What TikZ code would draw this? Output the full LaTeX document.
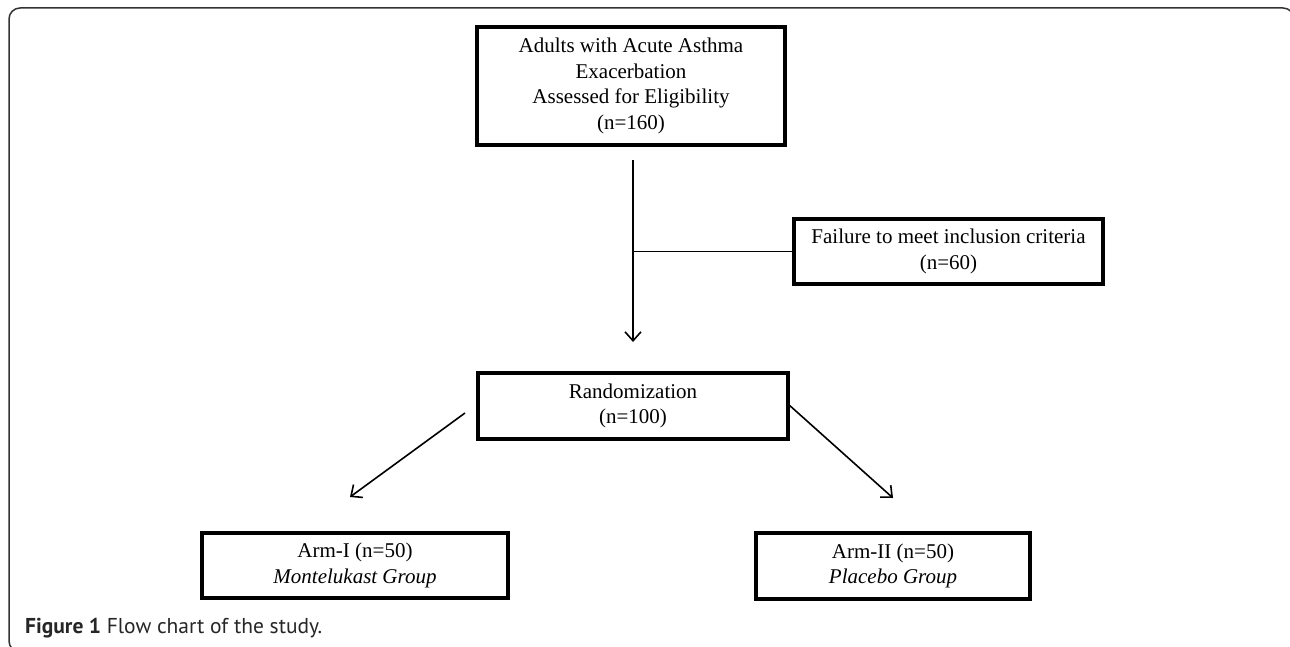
\documentclass[tikz,border=0pt]{standalone}
\usepackage{fontspec}
\setmainfont{Liberation Serif}
\newfontfamily\capfont{PT Sans}
\usetikzlibrary{arrows.meta}
\begin{document}
\begin{tikzpicture}[x=1pt,y=-1pt,
  box/.style={draw,line width=3.2pt,rectangle,align=center,inner sep=0pt,
    font=\fontsize{21}{25.5}\selectfont},
  conn/.style={line width=1.6pt,-{Straight Barb[length=9pt,width=16pt,line width=1.6pt]}},
  plain/.style={line width=1.6pt}]
\useasboundingbox (0,0) rectangle (1290,647);
\clip (0,0) rectangle (1290,647);
\fill[white] (0,0) rectangle (1290,647);
\draw[line width=1.5pt,black!80,rounded corners=11pt] (9,8) rectangle (1294,652);
\node[box,minimum width=308pt,minimum height=118pt] (top) at (631,86)
  {Adults with Acute Asthma\\Exacerbation\\Assessed for Eligibility\\(n=160)};
\node[box,minimum width=309pt,minimum height=65pt] (fail) at (948.5,251.5)
  {Failure to meet inclusion criteria\\(n=60)};
\node[box,minimum width=310pt,minimum height=66pt] (rand) at (633,406)
  {Randomization\\(n=100)};
\node[box,minimum width=306pt,minimum height=65pt] (arm1) at (355,565.5)
  {Arm-I (n=50)\\\textit{Montelukast Group}};
\node[box,minimum width=274pt,minimum height=66pt] (arm2) at (893,566)
  {Arm-II (n=50)\\\textit{Placebo Group}};
\coordinate (v1) at (633,160);
\coordinate (v2) at (633,342);
\coordinate (l1) at (465,413);
\coordinate (l2) at (350,497);
\coordinate (r1) at (788,404);
\coordinate (r2) at (893,498);
\draw[conn] (v1) -- (v2);
\draw[plain] (fail.west) -- (fail.west -| v1);
\draw[conn] (l1) -- (l2);
\draw[conn] (r1) -- (r2);
\node[anchor=base west,inner sep=0pt,text=black!85,font=\capfont\fontsize{21.5}{24}\selectfont] (cap) at (25,633)
  {\textbf{Figure 1} Flow chart of the study.};
\end{tikzpicture}
\end{document}
